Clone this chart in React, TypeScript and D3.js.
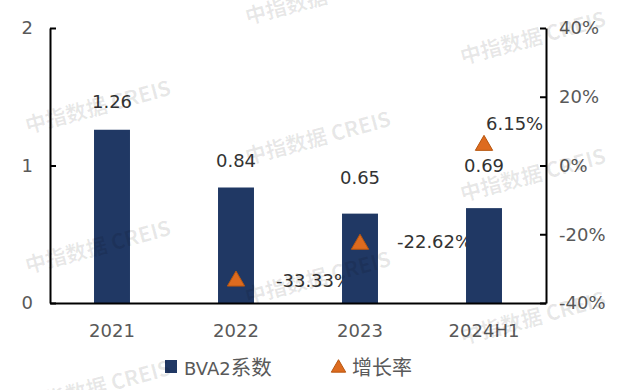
import { useEffect, useRef } from "react";
import * as d3 from "d3";

// chart data
const categories: string[] = ["2021", "2022", "2023", "2024H1"];
const bva2Values: number[] = [1.26, 0.84, 0.65, 0.69];
const growthRates: (number | null)[] = [null, -33.33, -22.62, 6.15];
const leftTicks: number[] = [0, 1, 2];
const rightTicks: number[] = [-40, -20, 0, 20, 40];

const FONT = "'DejaVu Sans', 'Noto Sans CJK SC', sans-serif";
const CJK = "'Noto Sans CJK SC', sans-serif";
const BAR_COLOR = "#203864";
const TRI_COLOR = "#DD6B1F";

export default function App() {
  const svgRef = useRef<SVGSVGElement>(null);

  useEffect(() => {
    const width = 627;
    const height = 390;
    const margin = { top: 28, right: 81, bottom: 87, left: 50 };

    const svg = d3
      .select(svgRef.current)
      .attr("width", width)
      .attr("height", height);

    svg.selectAll("*").remove();
    svg.append("rect").attr("width", width).attr("height", height).attr("fill", "#fff");

    const x = d3
      .scaleBand()
      .domain(categories)
      .range([margin.left, width - margin.right])
      .paddingInner(0.71)
      .paddingOuter(0.355);

    const yLeft = d3
      .scaleLinear()
      .domain([0, 2])
      .range([height - margin.bottom, margin.top]);

    const yRight = d3
      .scaleLinear()
      .domain([-40, 40])
      .range([height - margin.bottom, margin.top]);

    const cx = (i: number) => (x(categories[i]) || 0) + x.bandwidth() / 2;

    const growthIdx = growthRates
      .map((g, i) => ({ g, i }))
      .filter((d) => d.g !== null) as { g: number; i: number }[];

    // growth labels (sit under the bars, as in the source)
    const growthOffset: Record<number, [number, number]> = { 1: [40, 7], 2: [37, 5], 3: [2, -14] };
    svg
      .selectAll("text.growth")
      .data(growthIdx)
      .join("text")
      .attr("class", "growth")
      .attr("x", (d) => cx(d.i) + growthOffset[d.i][0])
      .attr("y", (d) => yRight(d.g) + growthOffset[d.i][1])
      .attr("font-family", FONT)
      .attr("font-size", 18)
      .attr("fill", "#333")
      .text((d) => `${d.g.toFixed(2)}%`);

    // bars
    svg
      .selectAll("rect.bar")
      .data(bva2Values)
      .join("rect")
      .attr("class", "bar")
      .attr("x", (_, i) => x(categories[i]) || 0)
      .attr("y", (d) => yLeft(d))
      .attr("width", x.bandwidth())
      .attr("height", (d) => yLeft(0) - yLeft(d))
      .attr("fill", BAR_COLOR);

    // axes
    const left = svg
      .append("g")
      .attr("transform", `translate(${margin.left},0)`)
      .call(
        d3
          .axisLeft(yLeft)
          .tickValues(leftTicks)
          .tickFormat(d3.format("d"))
          .tickSizeInner(-6)
          .tickSizeOuter(0)
          .tickPadding(17)
      );

    const right = svg
      .append("g")
      .attr("transform", `translate(${width - margin.right},0)`)
      .call(
        d3
          .axisRight(yRight)
          .tickValues(rightTicks)
          .tickFormat((d) => `${d}%`)
          .tickSizeInner(-6)
          .tickSizeOuter(0)
          .tickPadding(13)
      );

    const bottom = svg
      .append("g")
      .attr("transform", `translate(0,${height - margin.bottom})`)
      .call(d3.axisBottom(x).tickSize(0).tickPadding(21));

    [left, right, bottom].forEach((g) => {
      g.selectAll("path.domain").attr("stroke", "#000").attr("stroke-width", 2);
      g.selectAll(".tick line").attr("stroke", "#000").attr("stroke-width", 2);
      g.selectAll("text")
        .attr("font-family", FONT)
        .attr("font-size", 18)
        .attr("fill", "#595959");
    });
    bottom.selectAll("text").attr("dy", "0.71em");

    // growth markers
    const tri = d3.symbol().type(d3.symbolTriangle).size(130);
    svg
      .selectAll("path.tri")
      .data(growthIdx)
      .join("path")
      .attr("class", "tri")
      .attr("d", tri)
      .attr("transform", (d) => `translate(${cx(d.i)},${yRight(d.g) + 1})`)
      .attr("fill", TRI_COLOR)
      .attr("stroke", "#B8560F")
      .attr("stroke-width", 1);

    // bar value labels
    const barLabelDy = [-22, -21, -30, -36];
    svg
      .selectAll("text.barlabel")
      .data(bva2Values)
      .join("text")
      .attr("class", "barlabel")
      .attr("x", (_, i) => cx(i))
      .attr("y", (d, i) => yLeft(d) + barLabelDy[i])
      .attr("text-anchor", "middle")
      .attr("font-family", FONT)
      .attr("font-size", 18)
      .attr("fill", "#333")
      .text((d) => d.toFixed(2));

    // legend
    const legend = svg.append("g").attr("font-family", FONT).attr("font-size", 18).attr("fill", "#595959");
    legend.append("rect").attr("x", 165).attr("y", 360).attr("width", 12).attr("height", 13).attr("fill", BAR_COLOR);
    const l1 = legend.append("text").attr("x", 184).attr("y", 375);
    l1.append("tspan").text("BVA2");
    l1.append("tspan").attr("font-family", CJK).attr("font-size", 20.5).text("系数");
    legend
      .append("path")
      .attr("d", d3.symbol().type(d3.symbolTriangle).size(90)())
      .attr("transform", "translate(338.5,368)")
      .attr("fill", TRI_COLOR)
      .attr("stroke", "#B8560F");
    legend
      .append("text")
      .attr("x", 352)
      .attr("y", 375)
      .attr("font-family", CJK)
      .attr("font-size", 20)
      .text("增长率");

    // watermark
    const marks: [number, number][] = [
      [98, 107], [98, 247], [98, 387],
      [318, -2], [318, 138], [318, 278], [318, 418],
      [533, 38], [533, 175], [533, 318],
    ];
    svg
      .append("g")
      .selectAll("text")
      .data(marks)
      .join("text")
      .attr("transform", (d) => `translate(${d[0]},${d[1]}) rotate(-15)`)
      .attr("text-anchor", "middle")
      .attr("dy", "0.35em")
      .attr("font-family", "'Noto Sans CJK SC', sans-serif")
      .attr("font-size", 21)
      .attr("font-weight", "bold")
      .attr("fill", "#000")
      .attr("fill-opacity", 0.09)
      .text("中指数据 CREIS");
  }, []);

  return (
    <svg ref={svgRef} style={{ position: "absolute", left: 0, top: 0 }}></svg>
  );
}
